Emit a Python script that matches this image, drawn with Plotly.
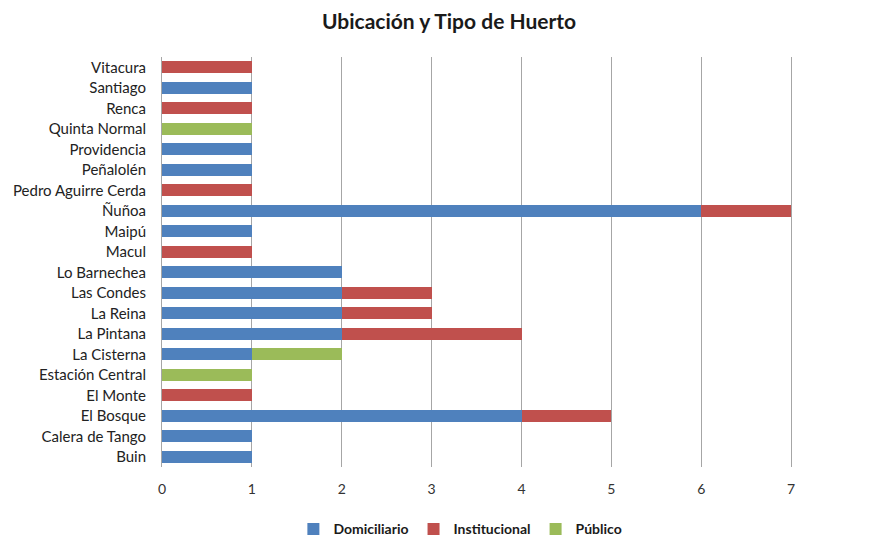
import plotly.graph_objects as go

categories = ["Buin", "Calera de Tango", "El Bosque", "El Monte", "Estación Central",
              "La Cisterna", "La Pintana", "La Reina", "Las Condes", "Lo Barnechea",
              "Macul", "Maipú", "Ñuñoa", "Pedro Aguirre Cerda", "Peñalolén",
              "Providencia", "Quinta Normal", "Renca", "Santiago", "Vitacura"]
domiciliario = [1, 1, 4, 0, 0, 1, 2, 2, 2, 2, 0, 1, 6, 0, 1, 1, 0, 0, 1, 0]
institucional = [0, 0, 1, 1, 0, 0, 2, 1, 1, 0, 1, 0, 1, 1, 0, 0, 0, 1, 0, 1]
publico = [0, 0, 0, 0, 1, 1, 0, 0, 0, 0, 0, 0, 0, 0, 0, 0, 1, 0, 0, 0]
x_ticks = [0, 1, 2, 3, 4, 5, 6, 7, 8]

font = "Lato, 'Open Sans', sans-serif"
fig = go.Figure()
for name, vals, color in [("Domiciliario", domiciliario, "#4F81BD"),
                          ("Institucional", institucional, "#C0504D"),
                          ("Público", publico, "#9BBB59")]:
    fig.add_trace(go.Bar(y=categories, x=vals, name=name, orientation="h",
                         marker=dict(color=color, line=dict(width=0))))

fig.update_layout(
    barmode="stack", bargap=0.42,
    width=882, height=542,
    margin=dict(l=154, r=5, t=49, b=78),
    paper_bgcolor="white", plot_bgcolor="white",
    title=dict(text="<b>Ubicación y Tipo de Huerto</b>", x=0.5, xref="container",
               y=0.975, yref="container", yanchor="middle",
               font=dict(family=font, size=21, color="#1a1a1a")),
    font=dict(family=font, size=15, color="#333333"),
    legend=dict(orientation="h", x=0.415, xref="paper", xanchor="center",
                y=-0.152, yanchor="middle",
                font=dict(family=font, size=14, color="#1a1a1a", weight="bold"),
                traceorder="normal", itemwidth=30),
    showlegend=True,
)
fig.update_xaxes(range=[0, 8], tickvals=x_ticks, showgrid=True, gridcolor="#a6a6a6",
                 gridwidth=1, zeroline=False, showline=False, ticks="",
                 ticklabelstandoff=12,
                 tickfont=dict(size=14, color="#333333"), fixedrange=True)
fig.update_yaxes(showgrid=False, showline=True, linecolor="#a6a6a6", linewidth=1,
                 ticks="", ticklabelstandoff=12,
                 tickfont=dict(size=15, color="#222222"), automargin=False)
fig.write_html("out.html")
